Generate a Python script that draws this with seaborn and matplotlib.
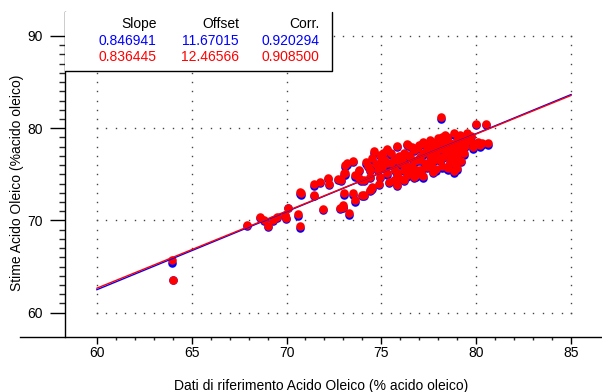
import numpy as np
import pandas as pd
import matplotlib
matplotlib.use("Agg")
import matplotlib.pyplot as plt
import seaborn as sns

# ---------------- data ----------------
ref_x = [63.96, 64.0, 67.9, 68.6, 68.8, 69.0, 69.3, 69.5, 69.9, 69.95,
         70.1, 70.6, 70.7, 70.73, 70.75, 71.47, 71.43, 71.78, 72.16, 72.23,
         71.94, 72.83, 72.95, 72.72, 73.04, 73.1, 73.04, 73.3, 73.6, 74.1,
         74.47, 73.2, 74.17, 74.95, 73.1, 72.86, 73.6, 73.9, 74.4, 74.87,
         75.4, 75.65, 74.4, 74.0, 73.5, 72.95, 75.8, 76.4, 74.8, 75.04,
         75.3, 76.0, 76.35, 76.7, 77.05, 77.4, 77.2, 77.55, 76.7, 75.83,
         76.2, 75.5, 76.9,
         78.13, 80.0, 80.5, 80.1, 79.84, 80.2, 80.6, 79.35, 78.45, 78.53,
         77.9, 77.1, 79.5, 79.15, 78.8, 78.45, 78.97, 78.6, 78.27, 77.9,
         77.4, 77.75, 78.1, 78.45, 78.8, 78.97, 78.6, 78.27, 77.9, 77.55,
         77.2, 77.05, 77.55, 78.1, 78.6, 77.4, 79.05, 79.3,
         74.5, 75.1, 75.5, 75.04, 74.4, 73.8, 74.1, 74.9, 74.5, 76.2,
         76.5, 76.9, 77.6, 77.75, 77.9, 78.6, 78.8, 78.97, 78.45, 79.3,
         78.97, 77.75, 76.7, 76.2, 75.65, 75.3, 75.83, 76.35, 76.6, 77.05,
         76.35, 77.2, 78.35,
         75.2, 75.9, 76.1, 76.4, 76.6, 76.9, 77.0, 77.3, 77.6, 77.8,
         78.0, 78.2, 78.4, 78.7, 78.9, 79.1, 79.2, 79.4, 79.6, 79.7,
         76.3, 75.7, 75.0, 74.7, 74.3, 73.8, 73.5, 74.6, 75.3, 76.8,
         77.2, 75.9, 76.5, 77.7, 78.2, 79.0, 78.8, 79.8, 80.3]

est_red = [65.7, 63.6, 69.5, 70.4, 70.1, 69.4, 70.05, 70.4, 70.6, 70.3,
           71.4, 70.7, 69.4, 73.1, 72.95, 73.9, 72.8, 74.2, 74.6, 74.0,
           71.25, 71.4, 71.7, 74.5, 75.1, 76.0, 72.95, 70.85, 72.2, 72.8,
           73.4, 76.2, 76.3, 77.1, 75.1, 74.4, 74.9, 74.4, 74.75, 74.0,
           74.2, 74.4, 73.3, 72.8, 72.95, 71.5, 78.1, 78.2, 75.5, 76.0,
           75.1, 76.2, 75.8, 76.4, 76.9, 77.65, 78.4, 78.7, 74.75, 73.85,
           74.4, 76.2, 75.5,
           81.26, 80.5, 80.5, 78.55, 78.4, 78.2, 78.4, 77.35, 75.8, 75.66,
           75.55, 75.5, 79.45, 79.3, 79.45, 79.1, 78.7, 78.4, 78.55, 78.4,
           78.0, 77.65, 77.8, 77.65, 77.8, 77.3, 77.1, 76.9, 77.1, 77.1,
           77.3, 76.6, 76.4, 76.6, 76.4, 75.8, 78.4, 78.9,
           76.75, 77.3, 77.3, 75.8, 75.5, 74.6, 74.4, 74.75, 73.6, 75.5,
           76.9, 76.6, 77.65, 78.4, 77.8, 78.0, 77.5, 78.4, 78.7, 78.7,
           76.9, 76.6, 77.65, 77.3, 76.6, 76.2, 75.1, 74.9, 75.8, 75.5,
           78.3, 78.55, 79.3,
           76.6, 77.0, 76.6, 77.1, 78.0, 77.9, 78.2, 76.2, 76.0, 76.9,
           78.9, 79.0, 77.3, 76.7, 76.1, 77.8, 76.5, 78.1, 78.7, 79.2,
           76.0, 75.5, 76.5, 76.1, 75.9, 75.5, 76.5, 77.5, 77.8, 74.9,
           74.8, 74.6, 75.2, 75.3, 75.9, 75.7, 75.4, 78.0, 78.4]

est_blue = [65.4, 63.55, 69.35, 70.25, 69.95, 69.3, 69.9, 70.3, 70.45, 70.15,
            71.3, 70.45, 69.15, 72.9, 72.8, 73.75, 72.65, 74.05, 74.45, 73.85,
            71.15, 71.2, 71.5, 74.35, 74.95, 75.85, 72.8, 70.6, 72.05, 72.6,
            73.3, 76.05, 76.15, 76.95, 74.95, 74.3, 74.75, 74.3, 74.6, 73.85,
            74.05, 74.25, 73.15, 72.7, 72.8, 71.35, 77.95, 78.05, 75.35, 75.85,
            74.95, 76.05, 75.65, 76.25, 76.75, 77.5, 78.25, 78.55, 74.6, 73.7,
            74.25, 76.05, 75.35,
            81.0, 80.35, 80.4, 78.3, 78.2, 77.95, 78.2, 77.15, 75.6, 75.45,
            75.35, 75.3, 79.3, 79.15, 79.3, 78.95, 78.55, 78.25, 78.4, 78.25,
            77.85, 77.5, 77.65, 77.5, 77.65, 77.15, 76.95, 76.75, 76.95, 76.95,
            77.15, 76.45, 76.25, 76.45, 76.25, 75.65, 78.25, 78.75,
            76.6, 77.15, 77.15, 75.65, 75.35, 74.45, 74.25, 74.6, 73.45, 75.35,
            76.75, 76.45, 77.5, 78.25, 77.65, 77.85, 77.35, 78.25, 78.55, 78.55,
            76.75, 76.45, 77.5, 77.15, 76.45, 76.05, 74.95, 74.75, 75.6, 75.35,
            78.15, 78.4, 79.15,
            76.45, 76.85, 76.45, 76.95, 77.85, 77.75, 78.05, 76.05, 75.85, 76.75,
            78.75, 78.85, 77.15, 76.55, 75.95, 77.65, 76.35, 77.95, 78.55, 79.05,
            75.85, 75.35, 76.35, 75.95, 75.75, 75.35, 76.35, 77.35, 77.65, 74.75,
            74.6, 74.45, 75.05, 75.1, 75.7, 75.5, 75.2, 77.8, 78.2]

series_colors = ["#0000FF", "#FF0000"]
slopes = [0.846941, 0.836445]
offsets = [11.67015, 12.46566]
corrs = [0.920294, 0.908500]
header = ["Slope", "Offset", "Corr."]
x_ticks = [60, 65, 70, 75, 80, 85]
y_ticks = [60, 70, 80, 90]
line_x = [60, 85]

# ---------------- figure ----------------
sns.set_style("white")
plt.rcParams['font.family'] = ['Liberation Sans', 'DejaVu Sans']

W, H = 602, 392
fig = plt.figure(figsize=(W / 100, H / 100), dpi=100)
ax = fig.add_axes([20 / W, 1 - 336.7 / H, (W - 20) / W, (336.7 - 12) / H])

x_lo, x_hi = 55.96, 86.62
y_lo, y_hi = 57.40, 92.60
spine_x = 58.35
ax.set_xlim(x_lo, x_hi)
ax.set_ylim(y_lo, y_hi)

# dotted grid (only inside 60..85 x 60..90)
for xv in x_ticks:
    ys = np.arange(y_ticks[0], y_ticks[-1] + 0.5, 1.0)
    ax.plot(np.full_like(ys, xv, dtype=float), ys, linestyle='none', marker='s',
            markersize=1.0, mew=0, color='#444444', zorder=1)
for yv in y_ticks:
    xs = np.arange(x_ticks[0], x_ticks[-1] + 0.25, 0.5)
    ax.plot(xs, np.full_like(xs, yv, dtype=float), linestyle='none', marker='s',
            markersize=1.0, mew=0, color='#444444', zorder=1)

df = pd.DataFrame({"ref": ref_x, "red": est_red, "blue": est_blue})
sns.scatterplot(data=df, x="ref", y="blue", color=series_colors[0], s=38,
                linewidth=0, ax=ax, zorder=3)
sns.scatterplot(data=df, x="ref", y="red", color=series_colors[1], s=38,
                linewidth=0, ax=ax, zorder=4)

for s, o, c in zip(slopes, offsets, series_colors):
    sns.lineplot(x=line_x, y=[s * xv + o for xv in line_x], color=c, lw=1.0,
                 ax=ax, zorder=5)

# legend-like table box
box_right = spine_x + (332 - 65.3) / 18.98
box_bottom = 60 + (312.7 - 71) / 9.22
ax.fill_between([spine_x, box_right], box_bottom, y_hi, color='white', zorder=6,
                linewidth=0)
ax.plot([spine_x, box_right, box_right], [box_bottom, box_bottom, y_hi],
        color='black', lw=1.0, zorder=7, clip_on=False)

col_x = [156.7, 239, 319]
row_y = [24, 40.7, 57.3]
for cx, h in zip(col_x, header):
    fig.text(cx / W, 1 - row_y[0] / H, h, ha='right', va='center', fontsize=10,
             color='black', zorder=10)
for i, c in enumerate(series_colors):
    vals = [f"{slopes[i]:.6f}", f"{offsets[i]:.5f}", f"{corrs[i]:.6f}"]
    for cx, v in zip(col_x, vals):
        fig.text(cx / W, 1 - row_y[i + 1] / H, v, ha='right', va='center',
                 fontsize=10, color=c, zorder=10)

# axes styling
for sp in ['top', 'right']:
    ax.spines[sp].set_visible(False)
ax.spines['left'].set_position(('data', spine_x))
for sp in ['left', 'bottom']:
    ax.spines[sp].set_color('black')
    ax.spines[sp].set_linewidth(1.0)

ax.set_xticks(x_ticks)
ax.set_xticks(np.arange(60, 86, 1), minor=True)
ax.set_yticks(y_ticks)
ax.set_yticks(np.arange(60, 91, 1), minor=True)
ax.set_xticklabels([str(v) for v in x_ticks])
ax.set_yticklabels([str(v) for v in y_ticks])
ax.tick_params(axis='x', which='major', direction='out', length=5, width=1,
               labelsize=10, pad=2, colors='black', bottom=True)
ax.tick_params(axis='x', which='minor', direction='out', length=2.3, width=1,
               bottom=True)
ax.tick_params(axis='y', which='major', direction='out', length=11, width=1,
               labelsize=10, pad=5, colors='black', left=True)
ax.tick_params(axis='y', which='minor', direction='out', length=4.3, width=1,
               left=True)
ax.set_xlabel("")
ax.set_ylabel("")

fig.text(321 / W, 1 - 390 / H, "Dati di riferimento Acido Oleico (% acido oleico)",
         ha='center', va='baseline', fontsize=10, color='black')
fig.text(17 / W, 1 - 183 / H, "Stime Acido Oleico (%acido oleico)",
         ha='center', va='center', rotation=90, fontsize=10, color='black')

fig.savefig("out.png", dpi=100)
